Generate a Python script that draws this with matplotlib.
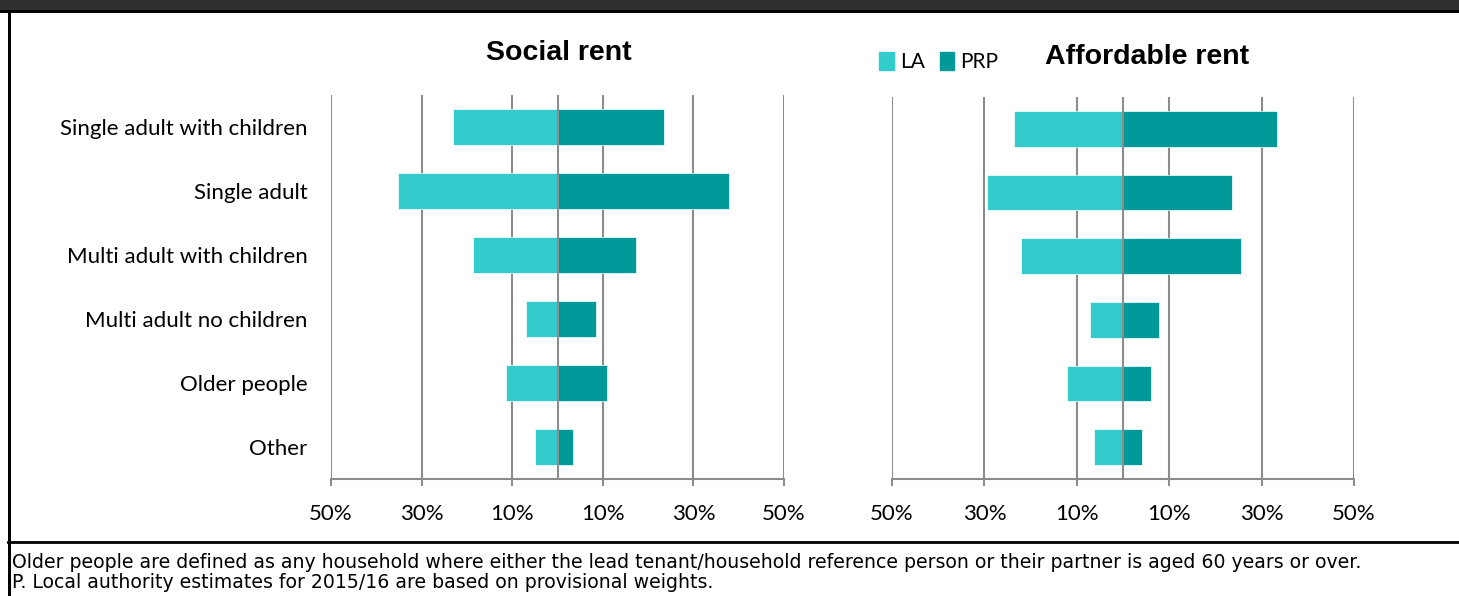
import matplotlib
matplotlib.use('Agg')
import matplotlib.pyplot as plt
import matplotlib.patches as mpatches
import matplotlib.lines as mlines

categories = ['Single adult with children', 'Single adult', 'Multi adult with children',
              'Multi adult no children', 'Older people', 'Other']

# percentages, LA plotted to the left, PRP to the right
social_la = [23.0, 35.2, 18.6, 6.9, 11.4, 4.9]
social_prp = [23.5, 37.9, 17.4, 8.6, 11.0, 3.4]
afford_la = [23.7, 29.5, 22.1, 7.1, 12.2, 6.3]
afford_prp = [33.3, 23.7, 25.5, 7.9, 6.1, 4.2]

tick_vals = [-50, -30, -10, 10, 30, 50]
tick_labels = ['50%', '30%', '10%', '10%', '30%', '50%']

LA_COL = '#33CCCC'
PRP_COL = '#009999'
GRID = '#8C8C8C'

W, H = 1459, 596
fig = plt.figure(figsize=(W / 100, H / 100), dpi=100)
fig.patch.set_facecolor('white')

# frame pieces (dark title band, borders, footnote rule)
fig.add_artist(mpatches.Rectangle((0, 1 - 10 / H), 1, 10 / H, transform=fig.transFigure,
                                  facecolor='#2F2F2F', edgecolor='none'))
fig.add_artist(mpatches.Rectangle((0, 1 - 13 / H), 1, 3 / H, transform=fig.transFigure,
                                  facecolor='black', edgecolor='none'))
fig.add_artist(mpatches.Rectangle((8 / W, 0), 3 / W, 1 - 10 / H, transform=fig.transFigure,
                                  facecolor='black', edgecolor='none'))
fig.add_artist(mlines.Line2D([8 / W, 1], [1 - 542 / H, 1 - 542 / H], transform=fig.transFigure,
                             color='black', lw=2))


def panel(rect, la, prp):
    ax = fig.add_axes(rect)
    y = list(range(len(categories)))
    ax.barh(y, [-v for v in la], height=0.56, color=LA_COL, edgecolor='white', lw=0.5, zorder=2)
    ax.barh(y, prp, height=0.56, color=PRP_COL, edgecolor='white', lw=0.5, zorder=2)
    ax.set_xlim(-50, 50)
    ax.set_ylim(len(categories) - 0.5, -0.5)
    for v in tick_vals:
        ax.axvline(v, color=GRID, lw=1.5, zorder=1)
    ax.axvline(0, color=GRID, lw=1.5, zorder=3)
    for s in ['top', 'right', 'left']:
        ax.spines[s].set_visible(False)
    ax.spines['bottom'].set_color(GRID)
    ax.spines['bottom'].set_linewidth(1.5)
    ax.set_xticks(tick_vals)
    ax.set_xticklabels(tick_labels, fontsize=16, family='Lato')
    ax.tick_params(axis='x', direction='out', length=5, width=1.5, color=GRID, pad=13)
    ax.tick_params(axis='y', length=0)
    return ax


ax1 = panel([331 / W, (H - 479) / H, 453 / W, 384 / H], social_la, social_prp)
ax1.set_yticks(range(len(categories)))
ax1.set_yticklabels(categories, fontsize=16, family='Lato')
ax1.tick_params(axis='y', pad=17)

ax2 = panel([892 / W, (H - 479) / H, 462 / W, 382 / H], afford_la, afford_prp)
ax2.set_yticks([])

fig.text(559 / W, 1 - 53 / H, 'Social rent', fontsize=20.5, fontweight='bold',
         family='Liberation Sans', ha='center', va='center')
fig.text(1147 / W, 1 - 57 / H, 'Affordable rent', fontsize=20.5, fontweight='bold',
         family='Liberation Sans', ha='center', va='center')

handles = [mpatches.Patch(color=LA_COL, label='LA'), mpatches.Patch(color=PRP_COL, label='PRP')]
fig.legend(handles=handles, loc='center', bbox_to_anchor=(939 / W, 1 - 62 / H), ncol=2,
           frameon=False, prop={'family': 'Lato', 'size': 15}, handlelength=0.7,
           handleheight=1.0, handletextpad=0.3, columnspacing=0.7)

fig.text(12 / W, 1 - 563 / H,
         'Older people are defined as any household where either the lead tenant/household '
         'reference person or their partner is aged 60 years or over.',
         fontsize=13.6, family='DejaVu Sans', va='center', ha='left')
fig.text(12 / W, 1 - 583 / H,
         'P. Local authority estimates for 2015/16 are based on provisional weights.',
         fontsize=13.6, family='DejaVu Sans', va='center', ha='left')

fig.savefig('out.png', dpi=100, facecolor='white')
